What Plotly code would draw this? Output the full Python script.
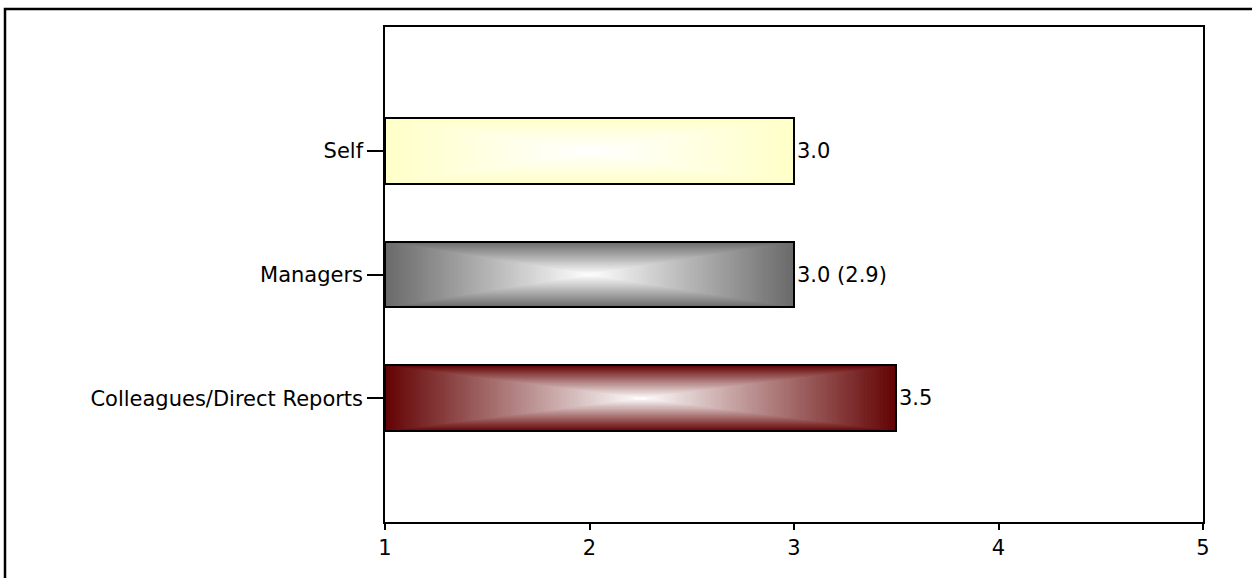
import plotly.graph_objects as go

# Rater groups, bottom to top
groups = ["Colleagues/Direct Reports", "Managers", "Self"]
scores = [3.5, 3.0, 3.0]
norms = [None, 2.9, None]          # comparison value shown in brackets
edge_colors = [(100, 4, 4), (106, 106, 106), (255, 255, 200)]
center_color = (255, 255, 255)

x_ticks = [1, 2, 3, 4, 5]
x_min, x_max = 1, 5
bar_width = 0.53
steps = 80

FONT = "DejaVu Sans, Verdana, sans-serif"
FS = 21


def mix(c0, c1, s):
    return "rgb({:.0f},{:.0f},{:.0f})".format(*[a + (b - a) * s for a, b in zip(c0, c1)])


fig = go.Figure()

# Each bar is filled with a rectangular path gradient: concentric bars that
# shrink towards the bar centre and fade from the edge colour to white.
for k in range(steps):
    t = 1 - k / steps
    bases, lengths, widths, colors = [], [], [], []
    for v, ec in zip(scores, edge_colors):
        half = (v - x_min) / 2
        mid = x_min + half
        bases.append(mid - t * half)
        lengths.append(2 * t * half)
        widths.append(bar_width * t)
        colors.append(mix(ec, center_color, 1 - t))
    fig.add_trace(go.Bar(
        y=groups, x=lengths, base=bases, width=widths, orientation="h",
        marker=dict(color=colors, line=dict(width=0)),
        hoverinfo="skip", showlegend=False,
    ))

# Outline of each bar
fig.add_trace(go.Bar(
    y=groups, x=[v - x_min for v in scores], base=[x_min] * len(scores),
    width=bar_width, orientation="h",
    marker=dict(color="rgba(0,0,0,0)", line=dict(color="black", width=2)),
    hoverinfo="skip", showlegend=False,
))

# Value labels
for g, v, n in zip(groups, scores, norms):
    label = f"{v:.1f}" if n is None else f"{v:.1f} ({n:.1f})"
    fig.add_annotation(x=v, y=g, text=label, showarrow=False,
                       xanchor="left", xshift=1,
                       font=dict(family=FONT, size=FS, color="black"))

# Outer frame around the chart
W, H = 1252, 578
L, R, T, B = 385, 49, 27, 56
pw, ph = W - L - R, H - T - B
fig.add_shape(type="rect", xref="paper", yref="paper",
              x0=(5 - L) / pw, x1=(W + 10 - L) / pw,
              y0=-(B + 10) / ph, y1=(H - B - 9) / ph,
              line=dict(color="black", width=2.5), fillcolor="rgba(0,0,0,0)",
              layer="above")

fig.update_layout(
    width=W, height=H,
    margin=dict(l=L, r=R, t=T, b=B),
    barmode="overlay",
    bargap=0,
    plot_bgcolor="white", paper_bgcolor="white",
    font=dict(family=FONT, size=FS, color="black"),
    xaxis=dict(range=[x_min, x_max], tickvals=x_ticks, ticks="outside",
               ticklen=6, tickwidth=1.5, tickcolor="black",
               showgrid=False, zeroline=False, showline=True,
               linecolor="black", linewidth=1.5, mirror=True,
               tickfont=dict(size=FS)),
    yaxis=dict(type="category", categoryorder="array", categoryarray=groups,
               range=[-1, 3], ticks="outside", ticklen=16, tickwidth=1.5,
               tickcolor="black", showgrid=False, zeroline=False,
               showline=True, linecolor="black", linewidth=1.5, mirror=True,
               tickfont=dict(size=FS)),
)

fig.write_html("out.html")
